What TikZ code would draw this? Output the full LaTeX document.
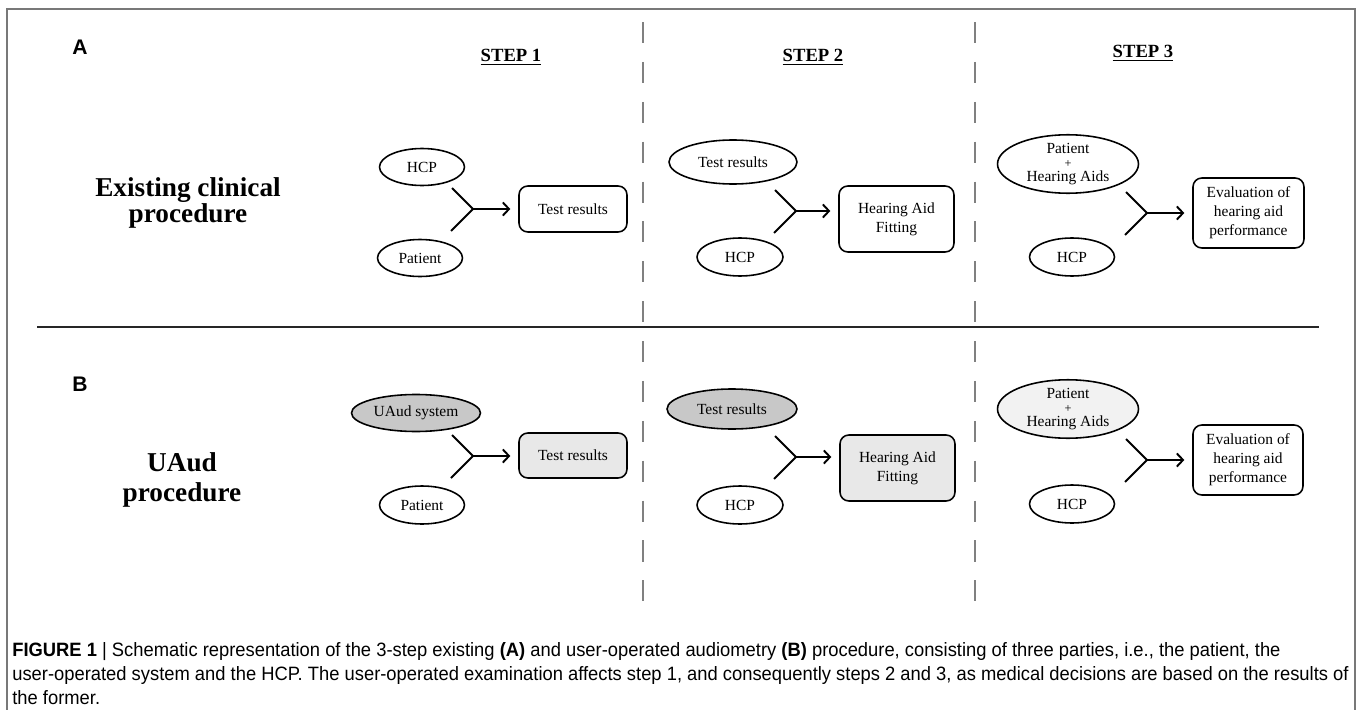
\documentclass[tikz,border=0pt]{standalone}
\usepackage{fontspec}
\setmainfont{Liberation Serif}
\newfontfamily\capfont[FakeStretch=0.95]{Liberation Sans}
\newfontfamily\panelfont{Liberation Sans}
\usetikzlibrary{shapes.geometric,arrows.meta,positioning}

\definecolor{sysgray}{RGB}{200,200,200}
\definecolor{resgray}{RGB}{232,232,232}
\definecolor{aidgray}{RGB}{242,242,242}
\definecolor{framegray}{RGB}{120,120,120}

\begin{document}
\begin{tikzpicture}[x=0.02cm, y=-0.02cm,
        party/.style={ellipse, draw, line width=0.9pt, inner sep=0pt,
                align=center, font=\fontsize{8.8}{7.9}\selectfont},
        result/.style={rectangle, rounded corners=5pt, draw, line width=0.9pt,
                inner sep=0pt, align=center, font=\fontsize{8.8}{10.8}\selectfont},
        chev/.style={line width=1.1pt},
        flow/.style={line width=1.1pt, -{Straight Barb[length=3.5pt,width=7.5pt]},
                shorten >=4.5pt},
        divider/.style={gray, line width=0.6pt, dash pattern=on 12pt off 10.7pt},
        steplabel/.style={font=\bfseries\fontsize{10.6}{12}\selectfont},
        rowlabel/.style={align=center, font=\bfseries\fontsize{15.5}{13.6}\selectfont},
        panel/.style={font=\panelfont\bfseries\fontsize{12}{14}\selectfont}]

    \useasboundingbox (0,0) rectangle (1357,710);
    \draw[framegray, line width=0.9pt] (7,712) |- (1355,9) -- (1355,712);

    \node[panel] (labA) at (80,47) {A};
    \node[panel] (labB) at (80,384) {B};

    \node[rowlabel] (rowA) at (188,203) {Existing clinical\\procedure};
    \node[rowlabel, font=\bfseries\fontsize{15.5}{17}\selectfont] (rowB) at (182,480) {UAud\\procedure};

    \node[steplabel] (step1) at (511,57) {\underline{STEP 1}};
    \node[steplabel] (step2) at (813,57) {\underline{STEP 2}};
    \node[steplabel] (step3) at (1143,53) {\underline{STEP 3}};

    \foreach \x in {643,975}
    \draw[divider] (\x,22) -- (\x,605);
    \draw[line width=1.2pt, black!85] (37,327) -- (1319,327);

    % existing procedure
    \node[party, minimum width=1.7cm, minimum height=0.74cm] (hcpA1) at (422,167) {HCP};
    \node[party, minimum width=1.7cm, minimum height=0.74cm] (patA1) at (420,258) {Patient};
    \node[result, minimum width=2.16cm, minimum height=0.92cm] (resA1) at (573,209) {Test results};
    \coordinate (joinA1) at (473,209);

    \node[party, minimum width=2.56cm, minimum height=0.88cm] (testA2) at (733,162) {Test results};
    \node[party, minimum width=1.72cm, minimum height=0.76cm] (hcpA2) at (740,257) {HCP};
    \node[result, minimum width=2.3cm, minimum height=1.32cm] (fitA2) at (896.5,219) {Hearing Aid\\Fitting};
    \coordinate (joinA2) at (796,211);

    \node[party, minimum width=2.82cm, minimum height=1.08cm] (aidsA3) at (1068,164) {Patient\\{\scriptsize +}\\Hearing Aids};
    \node[party, minimum width=1.7cm, minimum height=0.76cm] (hcpA3) at (1072,257) {HCP};
    \node[result, minimum width=2.22cm, minimum height=1.4cm] (evalA3) at (1248.5,213) {Evaluation of\\hearing aid\\performance};
    \coordinate (joinA3) at (1147,213);

    % UAud procedure
    \node[party, fill=sysgray, minimum width=2.58cm, minimum height=0.74cm] (sysB1) at (416,413) {UAud system};
    \node[party, minimum width=1.7cm, minimum height=0.76cm] (patB1) at (422,505) {Patient};
    \node[result, fill=resgray, minimum width=2.16cm, minimum height=0.9cm] (resB1) at (573,455.5) {Test results};
    \coordinate (joinB1) at (473,456);

    \node[party, fill=sysgray, minimum width=2.6cm, minimum height=0.8cm] (testB2) at (732,409) {Test results};
    \node[party, minimum width=1.72cm, minimum height=0.76cm] (hcpB2) at (740,505) {HCP};
    \node[result, fill=resgray, minimum width=2.3cm, minimum height=1.32cm] (fitB2) at (897.5,468) {Hearing Aid\\Fitting};
    \coordinate (joinB2) at (796,457);

    \node[party, fill=aidgray, minimum width=2.82cm, minimum height=1.06cm] (aidsB3) at (1068,409) {Patient\\{\scriptsize +}\\Hearing Aids};
    \node[party, minimum width=1.7cm, minimum height=0.76cm] (hcpB3) at (1072,504) {HCP};
    \node[result, minimum width=2.2cm, minimum height=1.4cm] (evalB3) at (1248,460) {Evaluation of\\hearing aid\\performance};
    \coordinate (joinB3) at (1147,460);

    \foreach \j/\r in {A1/resA1, A2/fitA2, A3/evalA3, B1/resB1, B2/fitB2, B3/evalB3} {
            \draw[chev] ([shift={(-21,-21)}]join\j) -- (join\j) -- ([shift={(-22,22)}]join\j);
            \draw[flow] (join\j) -- (join\j -| \r.west);
        }

    \node[anchor=north west, align=left, inner sep=0pt,
        font=\capfont\fontsize{11}{13.8}\selectfont] (caption) at (12,642)
    {\textbf{FIGURE 1} | Schematic representation of the 3-step existing \textbf{(A)} and user-operated audiometry \textbf{(B)} procedure, consisting of three parties, i.e., the patient, the\\
        user-operated system and the HCP. The user-operated examination affects step 1, and consequently steps 2 and 3, as medical decisions are based on the results of\\
        the former.};
\end{tikzpicture}
\end{document}
